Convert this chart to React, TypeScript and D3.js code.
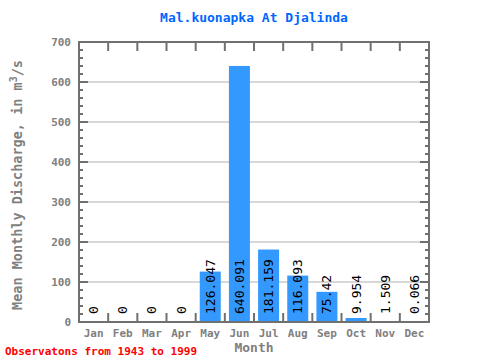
import React from "react";
import * as d3 from "d3";

const months = ["Jan","Feb","Mar","Apr","May","Jun","Jul","Aug","Sep","Oct","Nov","Dec"];
const values = [0,0,0,0,126.047,640.091,181.159,116.093,75.42,9.954,1.509,0.066];
const labels = ["0","0","0","0","126.047","640.091","181.159","116.093","75.42","9.954","1.509","0.066"];
const yTicks = [0,100,200,300,400,500,600,700];

const W = 480, H = 360;
const L = 79, R = 429, T = 42, B = 322;
const AX = "#707070";
const MONO = "'DejaVu Sans Mono', 'Liberation Mono', monospace";

export default function App() {
  const x = d3.scaleBand<string>().domain(months).range([L, R]).paddingInner(0.28).paddingOuter(0.14);
  const xb = d3.scaleLinear().domain([0, 12]).range([L, R]);
  const y = d3.scaleLinear().domain([0, 700]).range([B, T]);
  const minor = d3.range(0, 701, 20);
  return (
    <svg width={W} height={H} style={{ position: "absolute", left: 0, top: 0, background: "#fff" }}>
      <text x={(L + R) / 2} y={22} textAnchor="middle" fill="#0066ff" fontFamily={MONO} fontWeight="bold" fontSize={13}>Mal.kuonapka At Djalinda</text>
      {yTicks.filter(t => t > 0 && t < 700).map(t => (
        <line key={"g" + t} x1={L} x2={R} y1={y(t)} y2={y(t)} stroke="#b0b0b0" strokeWidth={1} />
      ))}
      {values.map((v, i) => (
        <rect key={"b" + i} x={x(months[i])} y={y(v)} width={x.bandwidth()} height={B - y(v)} fill="#3399ff" />
      ))}
      {minor.map(t => {
        const major = t % 100 === 0;
        const len = major ? 9 : 4;
        return (
          <g key={"m" + t}>
            <line x1={L} x2={L + len} y1={y(t)} y2={y(t)} stroke={AX} strokeWidth={2} />
            <line x1={R} x2={R - len} y1={y(t)} y2={y(t)} stroke={AX} strokeWidth={2} />
          </g>
        );
      })}
      {d3.range(1, 12).map(i => (
        <g key={"xt" + i}>
          <line x1={xb(i)} x2={xb(i)} y1={T} y2={T + 9} stroke={AX} strokeWidth={2} />
          <line x1={xb(i)} x2={xb(i)} y1={B} y2={B - 9} stroke={AX} strokeWidth={2} />
        </g>
      ))}
      <rect x={L} y={T} width={R - L} height={B - T} fill="none" stroke={AX} strokeWidth={2} />
      {yTicks.map(t => (
        <text key={"yl" + t} x={71} y={y(t) + 4} textAnchor="end" fill="#808080" fontFamily={MONO} fontWeight="bold" fontSize={11}>{t}</text>
      ))}
      {months.map((m, i) => (
        <text key={"xl" + m} x={x(m)! + x.bandwidth() / 2} y={337} textAnchor="middle" fill="#808080" fontFamily={MONO} fontWeight="bold" fontSize={11}>{m}</text>
      ))}
      {labels.map((s, i) => {
        const cx = x(months[i])! + x.bandwidth() / 2;
        const cy = 314;
        return (
          <text key={"v" + i} transform={`translate(${cx + 4.5},${cy}) rotate(-90)`} textAnchor="start" fill="#000" fontFamily={MONO} fontSize={13}>{s}</text>
        );
      })}
      <text x={(L + R) / 2} y={352} textAnchor="middle" fill="#808080" fontFamily={MONO} fontWeight="bold" fontSize={13}>Month</text>
      <text transform={`translate(22,185) rotate(-90)`} textAnchor="middle" fill="#808080" fontFamily={MONO} fontWeight="bold" fontSize={13.5}>
        Mean Monthly Discharge, in m<tspan dy={-5} fontSize={10}>3</tspan><tspan dy={5}>/s</tspan>
      </text>
      <text x={5} y={355} fill="#ff0000" fontFamily={MONO} fontWeight="bold" fontSize={11}>Observatons from 1943 to 1999</text>
    </svg>
  );
}
